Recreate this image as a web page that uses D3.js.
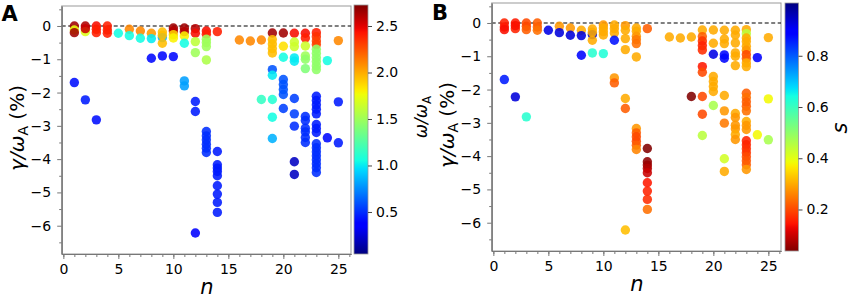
<!DOCTYPE html>
<html><head><meta charset="utf-8">
<script src="https://cdn.jsdelivr.net/npm/d3@7"></script>
<style>body{margin:0;background:#fff;} text{font-family:"DejaVu Sans",sans-serif;}</style>
</head><body>
<script>
// ---- data: one entry per mode (same points in both panels) ----
const nVals = [1,1,1,1, 2,2,2,2, 3,3,3,3, 4,4,4, 5, 6,6, 7,7, 8,8,8, 9,9,9,9,9, 10,10,10,10,10,
  11,11,11,11,11,11, 12,12,12,12,12,12,12, 13,13,13,13,13,13, 13,13,13,13,13,13,
  14, 14,14,14,14,14,14,14,14,14, 16, 17, 18,18,
  19,19,19,19,19,19,19,19,19,19,
  20,20,20,20,20,20,20,20,
  21,21,21,21,21,21,21,21,21,21,
  22,22,22,22,22,22,22,22,22,22,22,22,
  23,23,23,23, 23,23,23,23,23,23, 23,23,23,23,23, 23,23,23, 23,23,23,23,23,23,23,23,
  24,24, 25,25,25];
const gammaVals = [0.00,-0.12,-0.20,-1.70, 0.00,-0.17,-0.08,-2.22, 0.00,-0.10,-0.20,-2.82, 0.00,-0.12,-0.22, -0.22, -0.10,-0.29, -0.15,-0.37, -0.22,-0.38,-0.97, -0.18,-0.35,-0.28,-0.52,-0.90, -0.06,-0.15,-0.26,-0.36,-0.92,
  -0.06,-0.17,-0.30,-0.52,-1.65,-1.80, -0.08,-0.22,-0.47,-0.80,-2.27,-2.57,-6.22, -0.15,-0.25,-0.40,-0.50,-0.62,-1.02, -3.17,-3.30,-3.42,-3.55,-3.67,-3.80,
  -0.17, -3.77,-4.17,-4.27,-4.37,-4.50,-4.80,-5.05,-5.30,-5.60, -0.42, -0.45, -0.42,-2.21,
  -0.21,-0.41,-0.54,-0.68,-0.81,-1.31,-1.48,-2.21,-2.74,-3.38,
  -0.21,-0.61,-0.94,-1.61,-1.76,-1.91,-2.06,-2.48,
  -0.22,-0.48,-0.62,-0.96,-1.06,-2.18,-2.64,-3.01,-4.08,-4.46,
  -0.22,-0.36,-0.60,-0.90,-1.00,-1.28,-2.72,-2.84,-3.07,-3.18,-3.35,-3.50,
  -0.20,-0.32,-0.45,-0.56, -0.70,-0.82,-0.95,-1.07,-1.20,-1.31, -2.11,-2.24,-2.37,-2.50,-2.64, -2.96,-3.08,-3.20, -3.54,-3.66,-3.78,-3.90,-4.02,-4.14,-4.26,-4.40,
  -1.04,-3.36, -0.44,-2.28,-3.51];
const omegaVals = [2.65,1.75,2.65,0.42, 2.62,1.70,2.55,0.45, 2.45,2.40,2.40,0.42, 2.40,2.40,2.40, 1.05, 2.10,1.05, 2.10,1.05, 2.05,1.00,0.40, 1.95,0.85,1.95,1.95,0.40, 2.65,2.60,1.90,1.80,0.40,
  2.65,2.60,1.80,1.05,0.80,0.80, 2.60,2.45,1.60,1.50,0.45,0.45,0.35, 2.45,2.40,1.50,1.50,1.50,1.55, 0.50,0.50,0.50,0.50,0.50,0.50,
  2.40, 0.45,0.45,0.45,0.45,0.45,0.45,0.45,0.45,0.45, 2.10, 2.10, 2.10,1.15,
  2.65,1.95,1.95,1.95,1.95,0.60,1.00,1.10,1.05,0.85,
  2.65,1.85,1.05,0.60,0.60,0.60,0.60,0.55,
  2.45,1.65,1.65,1.00,1.00,0.55,0.55,0.50,0.20,0.20,
  2.45,2.40,1.65,1.50,1.45,1.40,0.50,0.50,0.50,0.50,0.50,0.50,
  2.40,2.35,2.30,2.30, 1.45,1.45,1.45,1.45,1.45,1.45, 0.45,0.45,0.45,0.45,0.45, 0.45,0.45,0.45, 0.50,0.50,0.50,0.50,0.50,0.50,0.50,0.50,
  1.05,0.40, 2.10,0.45,0.45];
const sVals = [0.16,0.15,0.14,0.86, 0.15,0.16,0.14,0.93, 0.20,0.20,0.22,0.62, 0.22,0.22,0.24, 0.92, 0.28,0.93, 0.28,0.93, 0.30,0.93,0.88, 0.30,0.95,0.30,0.30,0.62, 0.28,0.30,0.30,0.30,0.63,
  0.30,0.30,0.30,0.87,0.28,0.22, 0.28,0.30,0.30,0.30,0.30,0.22,0.32, 0.30,0.30,0.28,0.25,0.24,0.30, 0.28,0.22,0.20,0.20,0.22,0.26,
  0.22, 0.04,0.05,0.06,0.08,0.10,0.15,0.16,0.17,0.24, 0.30, 0.30, 0.30,0.04,
  0.30,0.22,0.18,0.16,0.17,0.15,0.20,0.20,0.20,0.45,
  0.30,0.30,0.92,0.30,0.30,0.30,0.30,0.47,
  0.30,0.30,0.30,0.88,0.88,0.30,0.28,0.25,0.42,0.30,
  0.30,0.30,0.30,0.30,0.30,0.30,0.30,0.28,0.28,0.28,0.30,0.28,
  0.30,0.45,0.30,0.30, 0.30,0.28,0.20,0.22,0.30,0.30, 0.22,0.24,0.22,0.22,0.24, 0.30,0.28,0.28, 0.16,0.16,0.17,0.18,0.20,0.21,0.22,0.28,
  0.90,0.38, 0.30,0.38,0.47];
const xMajorTicks = [0,5,10,15,20,25];
const yMajorTicks = [0,-1,-2,-3,-4,-5,-6];
const omegaTicks = [0.5,1.0,1.5,2.0,2.5];
const sTicks = [0.2,0.4,0.6,0.8];
const omegaRange = [0.048, 2.726];
const sRange = [0.038, 1.006];

const points = nVals.map((n,i)=>({n, g:gammaVals[i], w:omegaVals[i], s:sVals[i]}));

// jet colormap (matplotlib segment data)
const jr = d3.scaleLinear().domain([0,0.35,0.66,0.89,1]).range([0,0,1,1,0.5]).clamp(true);
const jg = d3.scaleLinear().domain([0,0.125,0.375,0.64,0.91,1]).range([0,0,1,1,0,0]).clamp(true);
const jb = d3.scaleLinear().domain([0,0.11,0.34,0.65,1]).range([0.5,1,1,0,0]).clamp(true);
function jet(t){return d3.rgb(255*jr(t),255*jg(t),255*jb(t)).toString();}

const fmt = d => d===0 ? "0" : (d<0 ? "\u2212"+Math.abs(d) : String(d));

const svg = d3.select("body").append("svg").attr("width",851).attr("height",299);
const defs = svg.append("defs");

function panel(cfg){
  const g = svg.append("g");
  const x = d3.scaleLinear().domain([-0.15,26.15]).range([cfg.left, cfg.left+289.3]);
  const y = d3.scaleLinear().domain([0.6,-6.85]).range([cfg.top, cfg.top+248]);
  const cnorm = d3.scaleLinear().domain(cfg.crange).range(cfg.reverse?[1,0]:[0,1]);
  const color = v => jet(cnorm(v));

  // frame
  g.append("rect").attr("x",x.range()[0]).attr("y",y.range()[0])
    .attr("width",x.range()[1]-x.range()[0]).attr("height",y.range()[1]-y.range()[0])
    .attr("fill","none").attr("stroke","#999").attr("stroke-width",1);

  // zero line
  g.append("line").attr("x1",x.range()[0]).attr("x2",x.range()[1]).attr("y1",y(0)).attr("y2",y(0))
    .attr("stroke","#000").attr("stroke-width",1.1).attr("stroke-dasharray","4,2.5");

  // points
  g.append("g").selectAll("circle").data(points).join("circle")
    .attr("cx",d=>x(d.n)).attr("cy",d=>y(d.g)).attr("r",4.7)
    .attr("fill",d=>color(cfg.key(d))).attr("fill-opacity",0.88);

  // axes
  const yb = y.range()[1];
  const xa = g.append("g").attr("transform",`translate(0,${yb})`)
    .call(d3.axisBottom(x).tickValues(xMajorTicks).tickFormat(fmt).tickSize(5).tickSizeOuter(0).tickPadding(5));
  const xm = g.append("g").attr("transform",`translate(0,${yb})`)
    .call(d3.axisBottom(x).tickValues(d3.range(0,27)).tickFormat("").tickSize(3).tickSizeOuter(0));
  const ya = g.append("g").attr("transform",`translate(${x.range()[0]},0)`)
    .call(d3.axisLeft(y).tickValues(yMajorTicks).tickFormat(fmt).tickSize(4.5).tickSizeOuter(0).tickPadding(6));
  const ym = g.append("g").attr("transform",`translate(${x.range()[0]},0)`)
    .call(d3.axisLeft(y).tickValues(d3.range(-6.5,0.6,1)).tickFormat("").tickSize(2.5).tickSizeOuter(0));
  [xa,xm,ya,ym].forEach(a=>{
    a.select(".domain").attr("stroke","#777");
    a.selectAll(".tick line").attr("stroke","#777");
    a.selectAll("text").attr("font-size",14).attr("fill","#000").attr("font-family","DejaVu Sans");
  });

  // axis titles
  g.append("text").attr("x",(x(0)+x(25))/2+6).attr("y",yb+40).attr("text-anchor","middle")
    .attr("font-size",21).attr("font-style","italic").text("n");
  const yt = g.append("text").attr("transform",`translate(${cfg.left-38},${cfg.top+122}) rotate(-90)`)
    .attr("text-anchor","middle").attr("font-size",20);
  yt.append("tspan").attr("font-style","italic").text("\u03b3/\u03c9");
  yt.append("tspan").attr("font-size",14).attr("dy",4).text("A");
  yt.append("tspan").attr("dy",-4).text(" (%)");

  // panel letter
  g.append("text").attr("x",cfg.letterX).attr("y",cfg.letterY).attr("font-size",21).attr("font-weight","bold").text(cfg.letter);

  // colorbar
  const cb = cfg.cb;
  const gid = "grad"+cfg.letter;
  const lg = defs.append("linearGradient").attr("id",gid).attr("x1",0).attr("y1",1).attr("x2",0).attr("y2",0);
  d3.range(0,1.0001,1/64).forEach(t=>{
    lg.append("stop").attr("offset",t).attr("stop-color",jet(cfg.reverse?1-t:t));
  });
  const cy = d3.scaleLinear().domain(cfg.crange).range([cb.bottom, cb.top]);
  g.append("rect").attr("x",cb.x).attr("y",cb.top).attr("width",cb.w).attr("height",cb.bottom-cb.top)
    .attr("fill",`url(#${gid})`).attr("stroke","#999").attr("stroke-width",0.8);
  const ca = g.append("g").attr("transform",`translate(${cb.x+cb.w},0)`)
    .call(d3.axisRight(cy).tickValues(cfg.cticks).tickFormat(d3.format(".1f")).tickSize(4).tickPadding(4));
  ca.select(".domain").remove();
  ca.selectAll(".tick line").attr("stroke","#444");
  ca.selectAll("text").attr("font-size",14).attr("fill","#000").attr("font-family","DejaVu Sans");
  const ct = g.append("text").attr("transform",`translate(${cb.labelX},${cb.labelY}) rotate(-90)`)
    .attr("text-anchor","middle").attr("font-size",17);
  cfg.cbLabel(ct);
}

panel({letter:"A", letterX:1.5, letterY:20.5, left:61.7, top:6, key:d=>d.w, crange:omegaRange, reverse:false, cticks:omegaTicks,
  cb:{x:354, w:14, top:5, bottom:254, labelX:427, labelY:117},
  cbLabel:t=>{ t.append("tspan").attr("font-style","italic").text("\u03c9/\u03c9"); t.append("tspan").attr("font-size",12).attr("dy",4).text("A"); }});
panel({letter:"B", letterX:432, letterY:19.5, left:491.7, top:3, key:d=>d.s, crange:sRange, reverse:true, cticks:sTicks,
  cb:{x:785, w:13.5, top:3, bottom:251, labelX:847, labelY:128},
  cbLabel:t=>{ t.attr("font-size",21); t.append("tspan").attr("font-style","italic").text("s"); }});
</script>
</body></html>
